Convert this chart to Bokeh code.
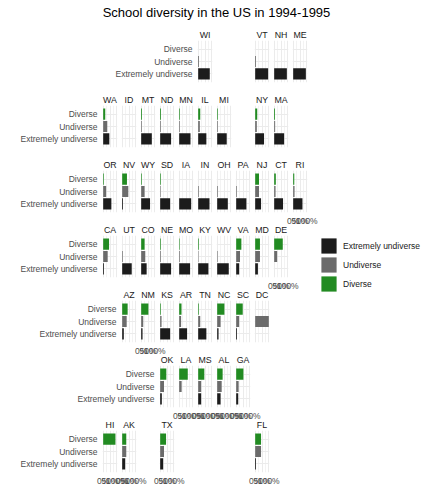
from bokeh.plotting import figure
from bokeh.layouts import row, column
from bokeh.models import (Range1d, FactorRange, FixedTicker, NumeralTickFormatter,
                          ColumnDataSource, Legend, LegendItem, Label, Spacer)
from bokeh.embed import file_html
from bokeh.resources import INLINE

NaN = float("nan")

title_text = "School diversity in the US in 1994-1995"
categories = ["Extremely undiverse", "Undiverse", "Diverse"]   # bottom -> top
legend_order = ["Extremely undiverse", "Undiverse", "Diverse"]
colors = {"Diverse": "#228B22", "Undiverse": "#6b6b6b", "Extremely undiverse": "#1c1c1c"}
x_ticks = [0, 0.5, 1]
x_minor = [0.25, 0.75]

states = ["WI", "VT", "NH", "ME",
          "WA", "ID", "MT", "ND", "MN", "IL", "MI", "NY", "MA",
          "OR", "NV", "WY", "SD", "IA", "IN", "OH", "PA", "NJ", "CT", "RI",
          "CA", "UT", "CO", "NE", "MO", "KY", "WV", "VA", "MD", "DE",
          "AZ", "NM", "KS", "AR", "TN", "NC", "SC", "DC",
          "OK", "LA", "MS", "AL", "GA",
          "HI", "AK", "TX", "FL"]
grid_row = [1, 1, 1, 1,
            2, 2, 2, 2, 2, 2, 2, 2, 2,
            3, 3, 3, 3, 3, 3, 3, 3, 3, 3, 3,
            4, 4, 4, 4, 4, 4, 4, 4, 4, 4,
            5, 5, 5, 5, 5, 5, 5, 5,
            6, 6, 6, 6, 6,
            7, 7, 7, 7]
grid_col = [6, 9, 10, 11,
            1, 2, 3, 4, 5, 6, 7, 9, 10,
            1, 2, 3, 4, 5, 6, 7, 8, 9, 10, 11,
            1, 2, 3, 4, 5, 6, 7, 8, 9, 10,
            2, 3, 4, 5, 6, 7, 8, 9,
            4, 5, 6, 7, 8,
            1, 2, 4, 9]
diverse = [0.0, 0.0, 0.0, 0.0,
           0.15, NaN, 0.06, 0.06, 0.05, 0.15, 0.05, 0.15, 0.06,
           0.05, 0.35, 0.05, 0.05, 0.0, 0.0, 0.0, 0.0, 0.28, 0.12, 0.08,
           0.43, 0.0, 0.25, 0.05, 0.04, 0.05, 0.0, 0.38, 0.35, 0.63,
           0.4, 0.53, 0.05, 0.17, 0.05, 0.53, 0.48, 0.0,
           0.45, 0.63, 0.45, 0.4, 0.53,
           0.9, 0.3, 0.43, 0.43]
undiverse = [0.06, 0.06, 0.0, 0.0,
             0.3, NaN, 0.05, 0.05, 0.05, 0.12, 0.05, 0.12, 0.07,
             0.22, 0.45, 0.25, 0.04, 0.0, 0.05, 0.05, 0.05, 0.28, 0.1, 0.1,
             0.33, 0.05, 0.3, 0.05, 0.05, 0.03, 0.04, 0.28, 0.35, 0.22,
             0.33, 0.15, 0.1, 0.14, 0.15, 0.25, 0.22, 1.0,
             0.28, 0.18, 0.22, 0.33, 0.18,
             0.0, 0.3, 0.28, 0.43]
extremely = [0.85, 0.95, 0.93, 0.93,
             0.45, NaN, 0.78, 0.8, 0.83, 0.6, 0.7, 0.65, 0.73,
             0.6, 0.06, 0.65, 0.73, 0.88, 0.83, 0.78, 0.75, 0.43, 0.65, 0.68,
             0.06, 0.7, 0.4, 0.8, 0.8, 0.75, 0.85, 0.22, 0.2, 0.0,
             0.12, 0.1, 0.73, 0.58, 0.6, 0.1, 0.06, 0.0,
             0.12, 0.0, 0.22, 0.25, 0.15,
             0.0, 0.22, 0.22, 0.06]

FONT = "Liberation Sans"
COLW, PW, PGAP = 19, 15, 4
ROWH, PH, TOP, BOT = 65, 42, 16, 7
LEFTM, TITLEH, AXH, LEGW = 102, 24, 18, 121
NCOL, NROW = 11, 7

leftmost, lowest = {}, {}
for r, c in zip(grid_row, grid_col):
    leftmost[r] = min(leftmost.get(r, 99), c)
    lowest[c] = max(lowest.get(c, 0), r)

x_range = Range1d(-0.05, 1.05)
y_range = FactorRange(factors=categories, range_padding=0.2, range_padding_units="absolute")


def make_panel(i):
    r, c = grid_row[i], grid_col[i]
    is_left = leftmost[r] == c
    is_bottom = lowest[c] == r
    ext = COLW if is_bottom else 0          # room for overhanging tick labels
    bl = (LEFTM + COLW * (c - 1)) if is_left else ext
    br = PGAP + ext
    bb = BOT + (AXH if is_bottom else 0)
    p = figure(width=bl + PW + br, height=TOP + PH + bb,
               x_range=x_range, y_range=y_range,
               x_axis_location="below" if is_bottom else None,
               y_axis_location="left" if is_left else None,
               toolbar_location=None, output_backend="svg", title=states[i],
               min_border_left=bl, min_border_right=br,
               min_border_top=TOP, min_border_bottom=bb,
               border_fill_color=None, background_fill_color=None,
               outline_line_color=None, frame_align=False)
    left_overlap = 0 if is_left else ext
    p.margin = (0, -ext, -(bb - BOT), -left_overlap)
    p.title.align = "center"
    p.title.text_font = FONT
    p.title.text_font_size = "8.8px"
    p.title.text_font_style = "normal"
    p.title.text_color = "#1a1a1a"
    p.title.standoff = 2
    p.title.offset = 0

    p.xgrid.ticker = FixedTicker(ticks=x_ticks, minor_ticks=x_minor)
    p.xgrid.grid_line_color = "#ebebeb"
    p.xgrid.grid_line_width = 1
    p.xgrid.minor_grid_line_color = "#ebebeb"
    p.xgrid.minor_grid_line_width = 0.6
    p.ygrid.grid_line_color = "#ebebeb"
    p.ygrid.grid_line_width = 1

    src = ColumnDataSource(dict(cat=categories,
                                val=[extremely[i], undiverse[i], diverse[i]],
                                color=[colors[k] for k in categories]))
    p.hbar(y="cat", left=0, right="val", height=0.9, fill_color="color",
           line_color=None, source=src)

    if is_bottom:
        ax = p.xaxis[0]
        ax.ticker = FixedTicker(ticks=x_ticks)
        ax.formatter = NumeralTickFormatter(format="0%")
        ax.axis_line_color = None
        ax.major_tick_line_color = None
        ax.minor_tick_line_color = None
        ax.major_tick_out = 0
        ax.major_tick_in = 0
        ax.major_label_standoff = 3
        ax.major_label_text_font = FONT
        ax.major_label_text_font_size = "8.5px"
        ax.major_label_text_color = "#4d4d4d"
    if is_left:
        ay = p.yaxis[0]
        ay.axis_line_color = None
        ay.major_tick_line_color = None
        ay.minor_tick_line_color = None
        ay.major_tick_out = 0
        ay.major_tick_in = 0
        ay.major_label_standoff = 5
        ay.major_label_text_font = FONT
        ay.major_label_text_font_size = "8.5px"
        ay.major_label_text_color = "#4d4d4d"
    return p


rows_ = []
for r in range(1, NROW + 1):
    idx = {grid_col[i]: i for i in range(len(states)) if grid_row[i] == r}
    first = leftmost[r]
    items = [make_panel(idx[first])]
    last = max(idx)
    for c in range(first + 1, last + 1):
        if c in idx:
            items.append(make_panel(idx[c]))
        else:
            items.append(Spacer(width=COLW, height=ROWH))
    rows_.append(row(*items, spacing=0))

# title
tf = figure(width=432, height=TITLEH, x_range=(0, 1), y_range=(0, 1),
            toolbar_location=None, output_backend="svg",
            x_axis_location=None, y_axis_location=None, min_border=0,
            border_fill_color=None, background_fill_color=None, outline_line_color=None)
tf.grid.visible = False
tf.add_layout(Label(x=216, y=12, x_units="screen", y_units="screen", text=title_text,
                    text_align="center", text_baseline="middle", text_font=FONT,
                    text_font_size="13px", text_color="black"))

# legend
lf = figure(width=LEGW, height=ROWH * NROW, x_range=(0, 1), y_range=FactorRange(factors=legend_order),
            toolbar_location=None, output_backend="svg",
            x_axis_location=None, y_axis_location=None, min_border=0,
            border_fill_color=None, background_fill_color=None, outline_line_color=None)
lf.grid.visible = False
items = []
for k in legend_order:
    rr = lf.hbar(y=[k], left=[0], right=[0], height=0.5, fill_color=colors[k], line_color=None)
    items.append(LegendItem(label=k, renderers=[rr]))
leg = Legend(items=items, location=(8, 186), glyph_width=19, glyph_height=19,
             label_height=19, spacing=0, padding=0, margin=0, label_standoff=5,
             label_text_font=FONT, label_text_font_size="8.5px",
             label_text_color="#1a1a1a", border_line_color=None,
             background_fill_alpha=0)
lf.add_layout(leg)

grid_col_layout = column(*rows_, spacing=0)
layout = column(tf, row(grid_col_layout, lf, spacing=0), spacing=0)

open("out.html", "w").write(file_html(layout, INLINE))
